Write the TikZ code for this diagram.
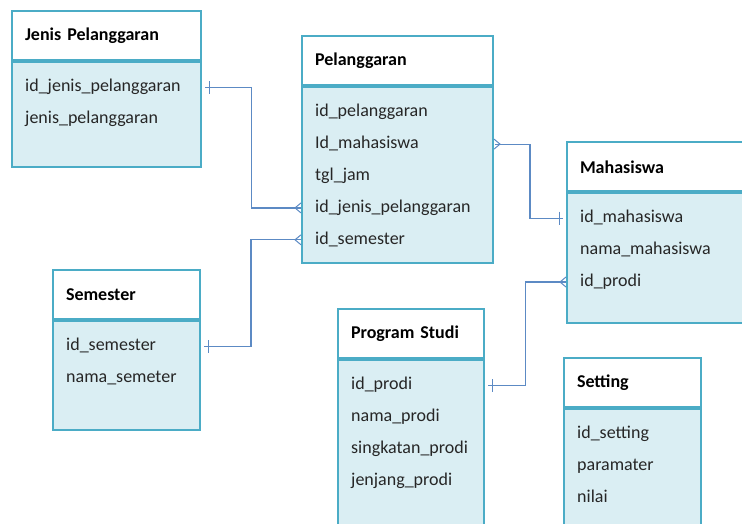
\documentclass[tikz,border=0pt]{standalone}
\usepackage{fontspec}
\setmainfont{Carlito}
\usetikzlibrary{positioning,calc,decorations.markings}
\definecolor{tblline}{RGB}{75,172,198}
\definecolor{tblfill}{RGB}{218,238,243}
\definecolor{relline}{RGB}{92,138,196}
\definecolor{fieldtext}{RGB}{38,38,38}

\tikzset{
  tblhead/.style={draw=tblline, line width=1.6pt, fill=white, anchor=north west,
    outer sep=0pt, minimum height=50pt, inner xsep=13pt, inner ysep=0pt, align=left,
    font=\fontsize{18}{21}\selectfont\bfseries, text=black},
  tblbody/.style={draw=tblline, line width=1.6pt, fill=tblfill, anchor=north west,
    outer sep=0pt, inner sep=0pt},
  sepline/.style={draw=tblline, line width=3.5pt},
  field/.style={inner xsep=0pt, inner ysep=7pt, text height=13pt, text depth=4.5pt,
    font=\fontsize{18}{21}\selectfont, text=fieldtext},
  firstfield/.style={below right=10.25pt and 13pt of #1.north west},
  fieldbelow/.style={below=0pt of #1.south west, anchor=north west},
  relmark/.style={relline, line width=1pt, shorten <=0pt, shorten >=0pt},
  rel/.style={draw=relline, line width=1.2pt, shorten <=4pt, shorten >=1.5pt,
    postaction={decorate}, decoration={markings,
      mark=at position 8pt with {\draw[relmark] (0pt,-6.5pt) -- (0pt,6.5pt);},
      mark=at position 1 with {\draw[relmark] (-1pt,5pt) -- (-7pt,0pt) -- (-1pt,-5pt);}}},
}

\begin{document}
\begin{tikzpicture}[x=1pt,y=-1pt]
  \useasboundingbox (0,0) rectangle (742,523);
  \clip (0,0) rectangle (742,523);

  % tables
  \node[tblhead, text width=163pt] (jenis) at (12,11) {Jenis Pelanggaran};
  \node[tblbody, minimum width=189pt, minimum height=106pt] (jenis-body) at (jenis.south west) {};
  \node[field, firstfield=jenis-body] (jenis-id) {id\_jenis\_pelanggaran};
  \node[field, fieldbelow=jenis-id] (jenis-nama) {jenis\_pelanggaran};

  \node[tblhead, text width=165pt] (pel) at (302,36) {Pelanggaran};
  \node[tblbody, minimum width=191pt, minimum height=177pt] (pel-body) at (pel.south west) {};
  \node[field, firstfield=pel-body] (pel-id) {id\_pelanggaran};
  \node[field, fieldbelow=pel-id] (pel-mhs) {Id\_mahasiswa};
  \node[field, fieldbelow=pel-mhs] (pel-tgl) {tgl\_jam};
  \node[field, fieldbelow=pel-tgl] (pel-jenis) {id\_jenis\_pelanggaran};
  \node[field, fieldbelow=pel-jenis] (pel-sem) {id\_semester};

  \node[tblhead, text width=164pt] (mhs) at (567,142) {Mahasiswa};
  \node[tblbody, minimum width=190pt, minimum height=131pt] (mhs-body) at (mhs.south west) {};
  \node[field, firstfield=mhs-body] (mhs-id) {id\_mahasiswa};
  \node[field, fieldbelow=mhs-id] (mhs-nama) {nama\_mahasiswa};
  \node[field, fieldbelow=mhs-nama] (mhs-prodi) {id\_prodi};

  \node[tblhead, text width=121pt] (sem) at (53,270) {Semester};
  \node[tblbody, minimum width=147pt, minimum height=110pt] (sem-body) at (sem.south west) {};
  \node[field, firstfield=sem-body] (sem-id) {id\_semester};
  \node[field, fieldbelow=sem-id] (sem-nama) {nama\_semeter};

  \node[tblhead, text width=120pt] (prodi) at (338,309) {Program Studi};
  \node[tblbody, minimum width=146pt, minimum height=190pt] (prodi-body) at (prodi.south west) {};
  \node[field, firstfield=prodi-body] (prodi-id) {id\_prodi};
  \node[field, fieldbelow=prodi-id] (prodi-nama) {nama\_prodi};
  \node[field, fieldbelow=prodi-nama] (prodi-singkat) {singkatan\_prodi};
  \node[field, fieldbelow=prodi-singkat] (prodi-jenjang) {jenjang\_prodi};

  \node[tblhead, text width=111pt] (set) at (564,358) {Setting};
  \node[tblbody, minimum width=137pt, minimum height=190pt] (set-body) at (set.south west) {};
  \node[field, firstfield=set-body] (set-id) {id\_setting};
  \node[field, fieldbelow=set-id] (set-param) {paramater};
  \node[field, fieldbelow=set-param] (set-nilai) {nilai};

  \foreach \t in {jenis,pel,mhs,sem,prodi,set}
    \draw[sepline] (\t-body.north west) -- (\t-body.north east);

  % relations, one end first
  \coordinate (m1) at ($(jenis-body.east)!.5!(pel-body.west)$);
  \coordinate (m2) at ($(sem-body.east)!.5!(pel-body.west)$);
  \coordinate (m3) at ($(pel-body.east)!.5!(mhs-body.west)$);
  \coordinate (m4) at ($(prodi-body.east)!.5!(mhs-body.west)$);
  \draw[rel] (jenis-id -| jenis-body.east) -| (m1) |- (pel-jenis -| pel-body.west);
  \draw[rel] (sem-id -| sem-body.east) -| (m2) |- (pel-sem -| pel-body.west);
  \draw[rel] (mhs-id -| mhs-body.west) -| (m3) |- (pel-mhs -| pel-body.east);
  \draw[rel] (prodi-id -| prodi-body.east) -| (m4) |- (mhs-prodi -| mhs-body.west);
\end{tikzpicture}
\end{document}
